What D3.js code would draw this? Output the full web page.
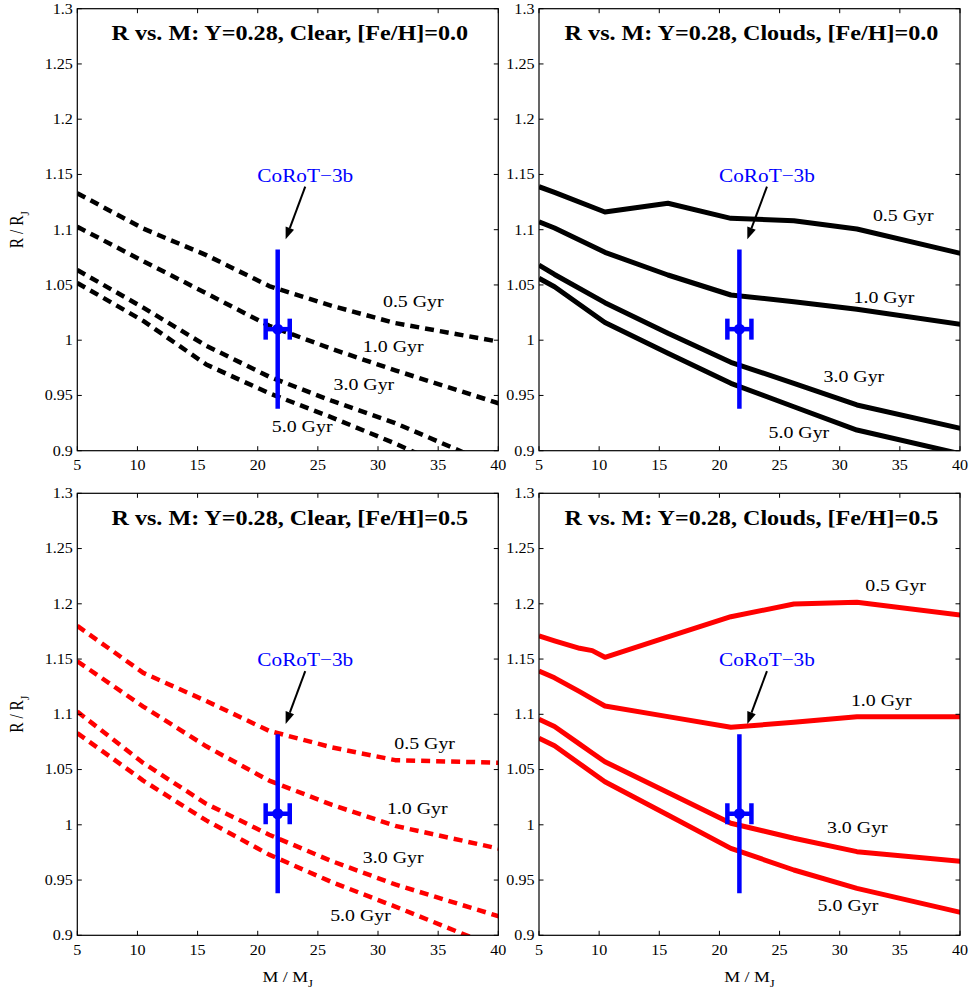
<!DOCTYPE html>
<html>
<head>
<meta charset="utf-8">
<script src="https://cdn.jsdelivr.net/npm/d3@7"></script>
<style>
  body { margin: 0; background: #fff; }
  svg { display: block; }
</style>
</head>
<body>
<div id="chart"></div>
<script>
// ---- data -------------------------------------------------------------
const ageLabels = ["0.5 Gyr", "1.0 Gyr", "3.0 Gyr", "5.0 Gyr"];
const xTicks = [5, 10, 15, 20, 25, 30, 35, 40];
const yTicks = [0.9, 0.95, 1, 1.05, 1.1, 1.15, 1.2, 1.25, 1.3];
const yTickLabels = ["0.9", "0.95", "1", "1.05", "1.1", "1.15", "1.2", "1.25", "1.3"];

// mass grids (M_J) of the evolutionary tracks
const massClear = [5, 10.48, 15.72, 20.95, 26.19, 31.43, 41.9];
const massCloudsSolar = [5, 6.29, 10.48, 15.72, 20.95, 26.19, 31.43, 41.9];
const massCloudsRich = [5, 6.29, 8.38, 9.43, 10.48, 15.72, 20.95, 26.19, 31.43, 41.9];

// radii (R_J), one row per age: 0.5, 1.0, 3.0, 5.0 Gyr
const radiusClearSolar = [
  [1.133, 1.101, 1.077, 1.049, 1.031, 1.0155, 0.995],
  [1.1027, 1.0715, 1.0425, 1.013, 0.992, 0.9727, 0.9364],
  [1.0635, 1.0295, 0.995, 0.967, 0.945, 0.925, 0.876],
  [1.0518, 1.0175, 0.978, 0.952, 0.930, 0.9065, 0.855]
];
const radiusCloudsSolar = [
  [1.1389, 1.1338, 1.116, 1.1239, 1.1103, 1.1081, 1.1006, 1.0738],
  [1.1072, 1.1015, 1.0795, 1.059, 1.0409, 1.0348, 1.028, 1.0115],
  [1.068, 1.0595, 1.034, 1.0062, 0.980, 0.961, 0.9414, 0.9157],
  [1.056, 1.0484, 1.016, 0.9881, 0.961, 0.9398, 0.9187, 0.8925]
];
const radiusClearRich = [
  [1.18, 1.1375, 1.112, 1.085, 1.070, 1.0585, 1.0557],
  [1.148, 1.107, 1.071, 1.040, 1.018, 0.999, 0.974],
  [1.1024, 1.056, 1.019, 0.991, 0.967, 0.946, 0.911],
  [1.083, 1.040, 1.004, 0.973, 0.948, 0.926, 0.880]
];
const radiusCloudsRich = [
  [1.171, 1.1665, 1.1597, 1.1576, 1.1516, 1.170, 1.1883, 1.1998, 1.2014, 1.1874],
  [1.1392, 1.133, 1.1205, 1.114, 1.1075, 1.0979, 1.0882, 1.0928, 1.0978, 1.0978],
  [1.0955, 1.089, 1.073, 1.065, 1.0571, 1.0293, 1.0014, 0.9878, 0.9757, 0.965],
  [1.0783, 1.0715, 1.0553, 1.0471, 1.039, 1.0089, 0.9787, 0.9591, 0.9425, 0.916]
];

// CoRoT-3b
const planetName = "CoRoT\u22123b";
const planetMass = 21.66, planetMassErr = 1.0;
const planetRadius = 1.01, planetRadiusErr = 0.07;

// ---- layout -----------------------------------------------------------
const W = 972, H = 997;
const PW = 421, PH = 442;
const SX = 1.15;                 // horizontal stretch applied to all text
const FONT = "'Liberation Serif', 'Times New Roman', Times, serif";

const panels = [
  { title: "R vs. M: Y=0.28, Clear, [Fe/H]=0.0", left: 77.3, top: 8.7,
    mass: massClear, radii: radiusClearSolar, color: "#000", dashed: true,
    labelAt: [[30.41, 1.0303], [28.74, 0.9896], [26.30, 0.9549], [21.17, 0.9172]],
    yLabel: true, xLabel: false },
  { title: "R vs. M: Y=0.28, Clouds, [Fe/H]=0.0", left: 539, top: 8.7,
    mass: massCloudsSolar, radii: radiusCloudsSolar, color: "#000", dashed: false,
    labelAt: [[32.76, 1.1079], [31.15, 1.0339], [28.65, 0.9625], [24.08, 0.9112]],
    yLabel: false, xLabel: false },
  { title: "R vs. M: Y=0.28, Clear, [Fe/H]=0.5", left: 77.3, top: 493.3,
    mass: massClear, radii: radiusClearRich, color: "#ff0000", dashed: true,
    labelAt: [[31.35, 1.0683], [30.74, 1.0095], [28.74, 0.9652], [26.02, 0.9129]],
    yLabel: true, xLabel: true },
  { title: "R vs. M: Y=0.28, Clouds, [Fe/H]=0.5", left: 539, top: 493.3,
    mass: massCloudsRich, radii: radiusCloudsRich, color: "#ff0000", dashed: false,
    labelAt: [[32.12, 1.2119], [30.93, 1.1075], [28.94, 0.9923], [28.16, 0.9223]],
    yLabel: false, xLabel: true }
];

const svg = d3.select("#chart").append("svg")
  .attr("width", W).attr("height", H)
  .attr("font-family", FONT);

// text helper: places a string at (x, y) with the horizontal stretch
function stext(parent, x, y, str, size, anchor, extra) {
  const t = parent.append("text")
    .attr("transform", `translate(${x},${y}) scale(${SX},1)` + (extra || ""))
    .attr("font-size", size)
    .attr("text-anchor", anchor || "start")
    .attr("fill", "#000")
    .text(str);
  return t;
}

panels.forEach((p, i) => {
  const x = d3.scaleLinear().domain([5, 40]).range([p.left, p.left + PW]);
  const y = d3.scaleLinear().domain([0.9, 1.3]).range([p.top + PH, p.top]);
  const g = svg.append("g");

  const clipId = "clip" + i;
  svg.append("clipPath").attr("id", clipId)
    .append("rect").attr("x", p.left).attr("y", p.top).attr("width", PW).attr("height", PH);

  // tracks
  const line = d3.line().x((d) => x(d[0])).y((d) => y(d[1]));
  const tracks = g.append("g").attr("clip-path", `url(#${clipId})`);
  p.radii.forEach((row) => {
    const pts = p.mass.map((m, k) => [m, row[k]]);
    tracks.append("path")
      .attr("d", line(pts))
      .attr("fill", "none")
      .attr("stroke", p.color)
      .attr("stroke-width", p.dashed ? 4.5 : 5)
      .attr("stroke-linejoin", "round")
      .attr("stroke-dasharray", p.dashed ? "9,6" : null);
  });

  // age labels
  ageLabels.forEach((lab, k) => {
    stext(g, x(p.labelAt[k][0]), y(p.labelAt[k][1]), lab, 17.3, "start");
  });

  // CoRoT-3b with error bars
  const eb = g.append("g").attr("stroke", "#0000ff").attr("stroke-width", 4.5);
  eb.append("line")
    .attr("x1", x(planetMass)).attr("x2", x(planetMass))
    .attr("y1", y(planetRadius + planetRadiusErr)).attr("y2", y(planetRadius - planetRadiusErr))
    .attr("stroke-linecap", "square");
  eb.append("line")
    .attr("x1", x(planetMass - planetMassErr)).attr("x2", x(planetMass + planetMassErr))
    .attr("y1", y(planetRadius)).attr("y2", y(planetRadius));
  [planetMass - planetMassErr, planetMass + planetMassErr].forEach((m) => {
    eb.append("line")
      .attr("x1", x(m)).attr("x2", x(m))
      .attr("y1", y(planetRadius) - 10.5).attr("y2", y(planetRadius) + 10.5);
  });
  g.append("circle").attr("cx", x(planetMass)).attr("cy", y(planetRadius))
    .attr("r", 5.5).attr("fill", "#0000ff");

  // annotation: name and arrow
  const tx = x(23.95), ty = y(1.1434);
  stext(g, tx, ty, planetName, 18.5, "middle").attr("fill", "#0000ff");
  const ax0 = x(23.95), ay0 = y(1.139);
  const ax1 = x(22.32), ay1 = y(1.0913);
  const ang = Math.atan2(ay1 - ay0, ax1 - ax0);
  const headLen = 12, headHalf = 4.5;
  const bx = ax1 - headLen * Math.cos(ang), by = ay1 - headLen * Math.sin(ang);
  g.append("line").attr("x1", ax0).attr("y1", ay0).attr("x2", bx).attr("y2", by)
    .attr("stroke", "#000").attr("stroke-width", 2);
  g.append("path")
    .attr("d", `M${ax1},${ay1}L${bx - headHalf * Math.sin(ang)},${by + headHalf * Math.cos(ang)}` +
               `L${bx + headHalf * Math.sin(ang)},${by - headHalf * Math.cos(ang)}Z`)
    .attr("fill", "#000");

  // frame
  g.append("rect").attr("x", p.left).attr("y", p.top).attr("width", PW).attr("height", PH)
    .attr("fill", "none").attr("stroke", "#000").attr("stroke-width", 1.2);

  // ticks on all four sides, pointing inward
  const tl = 4.5;
  const ticks = g.append("g").attr("stroke", "#000").attr("stroke-width", 1);
  xTicks.forEach((v) => {
    ticks.append("line").attr("x1", x(v)).attr("x2", x(v)).attr("y1", p.top + PH).attr("y2", p.top + PH - tl);
    ticks.append("line").attr("x1", x(v)).attr("x2", x(v)).attr("y1", p.top).attr("y2", p.top + tl);
  });
  yTicks.forEach((v) => {
    ticks.append("line").attr("x1", p.left).attr("x2", p.left + tl).attr("y1", y(v)).attr("y2", y(v));
    ticks.append("line").attr("x1", p.left + PW).attr("x2", p.left + PW - tl).attr("y1", y(v)).attr("y2", y(v));
  });

  // tick labels
  xTicks.forEach((v) => {
    stext(g, x(v), p.top + PH + 19.5, String(v), 14, "middle");
  });
  yTicks.forEach((v, k) => {
    stext(g, p.left - 4.5, y(v) + 4.8, yTickLabels[k], 14, "end");
  });

  // title
  stext(g, p.left + PW / 2 + 2, p.top + 31.5, p.title, 21, "middle").attr("font-weight", "bold");

  // axis labels
  if (p.xLabel) {
    const t = stext(g, p.left + PW / 2, p.top + PH + 46.5, "M / M", 15.5, "middle");
    t.append("tspan").attr("font-size", 11).attr("dy", 5).text("J");
  }
  if (p.yLabel) {
    const t = stext(g, 23, p.top + PH / 2, "R / R", 15.5, "middle", " rotate(-90)");
    t.append("tspan").attr("font-size", 11).attr("dy", 5).text("J");
  }
});
</script>
</body>
</html>
